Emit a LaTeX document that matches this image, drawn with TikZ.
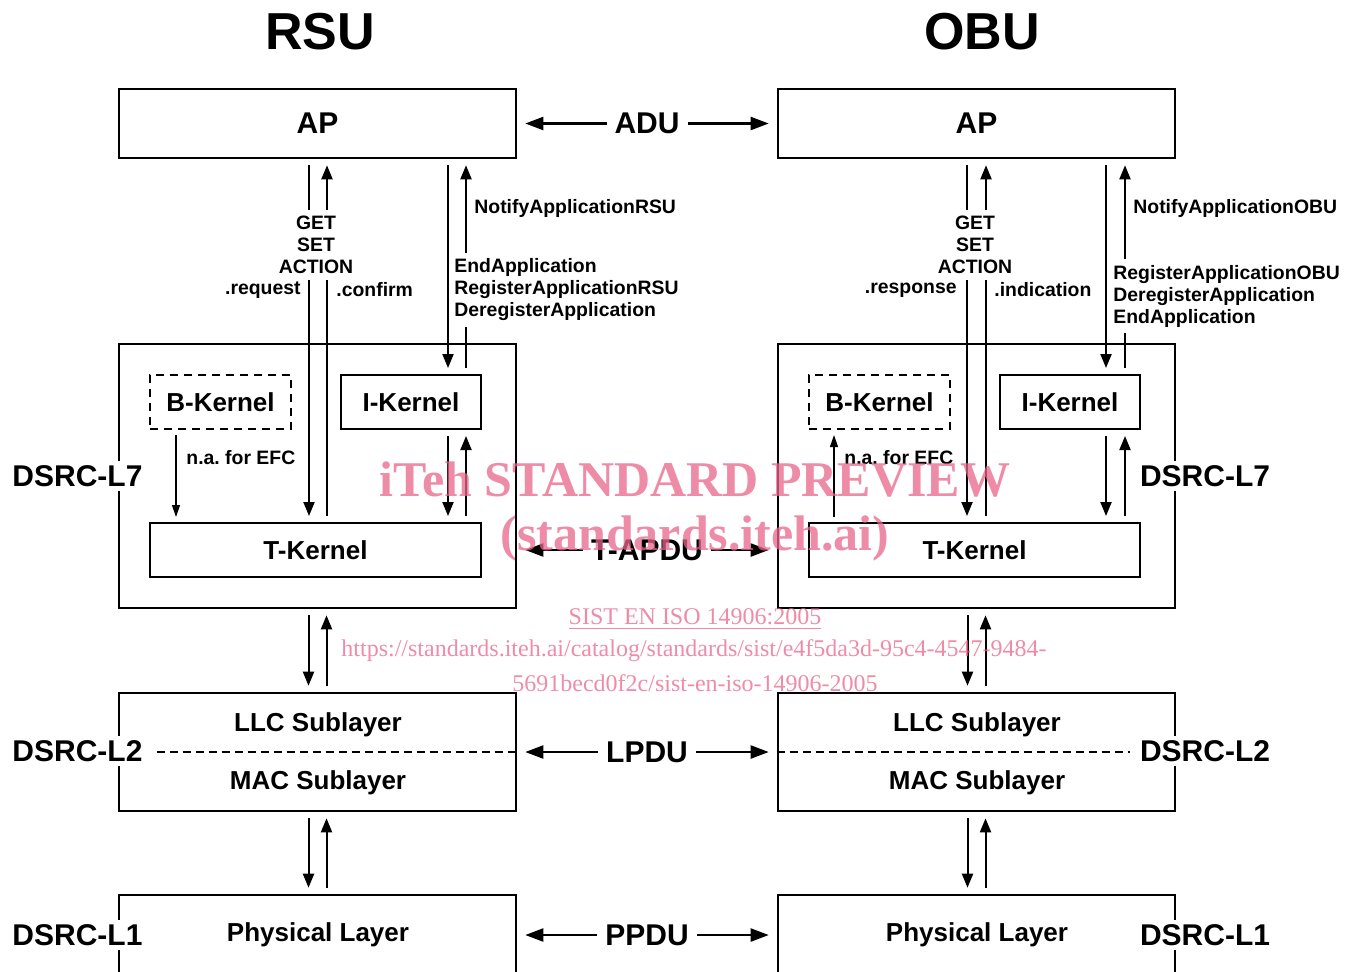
\documentclass[tikz,border=0pt]{standalone}
\usepackage{fontspec}
\setmainfont{Liberation Sans}
\newfontfamily\wmfont{Liberation Serif}
\usetikzlibrary{arrows.meta}
\definecolor{wmpink}{RGB}{232,102,139}
\frenchspacing

\begin{document}
\begin{tikzpicture}[x=0.5pt,y=-0.5pt,
  layer/.style={draw,line width=1.3pt,minimum width=198.5pt,inner sep=0pt,
    font=\fontsize{15}{18}\selectfont\bfseries},
  kernel/.style={draw,line width=1pt,minimum height=27pt,inner sep=0pt,
    font=\fontsize{13}{15}\selectfont\bfseries},
  sub/.style={font=\fontsize{13}{15}\selectfont\bfseries},
  side/.style={fill=white,inner xsep=5pt,inner ysep=2pt,font=\fontsize{15}{18}\selectfont\bfseries},
  small/.style={inner sep=1pt,font=\fontsize{9.7}{11}\selectfont\bfseries},
  pdu/.style={fill=white,inner xsep=4pt,inner ysep=1pt,font=\fontsize{15}{18}\selectfont\bfseries},
  flow/.style={line width=1pt,-{Triangle[length=7pt,width=5.5pt]},shorten >=3pt,shorten <=3pt},
  thinflow/.style={line width=0.6pt,-{Triangle[length=6pt,width=4pt]},shorten >=2.5pt,shorten <=2.5pt},
  peer/.style={line width=1.1pt,{Triangle[length=9pt,width=6.5pt]}-{Triangle[length=9pt,width=6.5pt]},
    shorten >=4pt,shorten <=4pt},
  wm/.style={text=wmpink,text opacity=0.75,inner sep=0pt}]
\useasboundingbox (0,0) rectangle (1352,971);
\clip (0,0) rectangle (1352,971);

\node[font=\fontsize{26}{30}\selectfont\bfseries] (rsu) at (320,32) {RSU};
\node[font=\fontsize{26}{30}\selectfont\bfseries] (obu) at (982,32) {OBU};

% RSU stack
\node[layer,minimum height=34.5pt] (apR) at (317.5,123.5) {AP};
\node[layer,minimum height=132pt] (l7R) at (317.5,476) {};
\node[kernel,dash pattern=on 4pt off 3pt,minimum width=70.5pt] (bkR) at (220.5,402) {B-Kernel};
\node[kernel,minimum width=70pt] (ikR) at (411,402) {I-Kernel};
\node[kernel,minimum width=165.5pt] (tkR) at (315.5,550) {T-Kernel};
\node[layer,minimum height=59pt] (l2R) at (317.5,752) {};
\node[sub] (llcR) at (318,725) {LLC Sublayer};
\node[sub] (macR) at (318,783) {MAC Sublayer};
\node[layer,minimum height=60pt] (l1R) at (317.5,955) {};
\node[sub] (phyR) at (318,935) {Physical Layer};

% OBU stack
\node[layer,minimum height=34.5pt] (apO) at (976.5,123.5) {AP};
\node[layer,minimum height=132pt] (l7O) at (976.5,476) {};
\node[kernel,dash pattern=on 4pt off 3pt,minimum width=70.5pt] (bkO) at (879.5,402) {B-Kernel};
\node[kernel,minimum width=70pt] (ikO) at (1070,402) {I-Kernel};
\node[kernel,minimum width=165.5pt] (tkO) at (974.5,550) {T-Kernel};
\node[layer,minimum height=59pt] (l2O) at (976.5,752) {};
\node[sub] (llcO) at (977,725) {LLC Sublayer};
\node[sub] (macO) at (977,783) {MAC Sublayer};
\node[layer,minimum height=60pt] (l1O) at (976.5,955) {};
\node[sub] (phyO) at (977,935) {Physical Layer};

\draw[line width=1pt,dash pattern=on 4pt off 2.5pt] (l2R.west) -- (l2R.east);
\draw[line width=1pt,dash pattern=on 4pt off 2.5pt] (l2O.west) -- (l2O.east);

\node[side] (dl7R) at (77.5,476) {DSRC-L7};
\node[side] (dl2R) at (77.5,751) {DSRC-L2};
\node[side] (dl1R) at (77.5,935) {DSRC-L1};
\node[side] (dl7O) at (1205,476) {DSRC-L7};
\node[side] (dl2O) at (1205,751) {DSRC-L2};
\node[side] (dl1O) at (1205,935) {DSRC-L1};

% peer to peer
\draw[peer] (apR) -- node[pdu] (adu) {ADU} (apO);
\draw[peer] (l7R.east |- tkR) -- node[pdu] (tapdu) {T-APDU} (l7O.west |- tkO);
\draw[peer] (l2R) -- node[pdu] (lpdu) {LPDU} (l2O);
\draw[peer] (l1R.east |- phyR) -- node[pdu] (ppdu) {PPDU} (l1O.west |- phyO);

% RSU primitives
\draw[flow] (309,0 |- apR.south) -- (309,0 |- tkR.north);
\draw[flow] (327,0 |- tkR.north) -- (327,0 |- apR.south);
\draw[flow] (448,0 |- apR.south) -- (448,0 |- ikR.north);
\draw[flow] (466,0 |- ikR.north) -- (466,0 |- apR.south);
\draw[flow] (448,0 |- ikR.south) -- (448,0 |- tkR.north);
\draw[flow] (466,0 |- tkR.north) -- (466,0 |- ikR.south);
\draw[thinflow] (176,0 |- bkR.south) -- (176,0 |- tkR.north);
\node[small,fill=white,align=center,inner sep=3pt] (gsaR) at (316,245) {GET\\SET\\ACTION};
\node[small,anchor=east] (reqR) at (303,290) {.request};
\node[small,anchor=west] (cnfR) at (334,290) {.confirm};
\node[small,anchor=west] (notR) at (472,208) {NotifyApplicationRSU};
\node[small,anchor=west,fill=white,align=left,inner ysep=3pt] (regR) at (452,290)
  {EndApplication\\RegisterApplicationRSU\\DeregisterApplication};
\node[small,anchor=west] (naR) at (184,458) {n.a. for EFC};

% OBU primitives
\draw[flow] (967,0 |- apO.south) -- (967,0 |- tkO.north);
\draw[flow] (986,0 |- tkO.north) -- (986,0 |- apO.south);
\draw[flow] (1106,0 |- apO.south) -- (1106,0 |- ikO.north);
\draw[flow] (1125,0 |- ikO.north) -- (1125,0 |- apO.south);
\draw[flow] (1106,0 |- ikO.south) -- (1106,0 |- tkO.north);
\draw[flow] (1125,0 |- tkO.north) -- (1125,0 |- ikO.south);
\draw[thinflow] (834,0 |- tkO.north) -- (834,0 |- bkO.south);
\node[small,fill=white,align=center,inner sep=3pt] (gsaO) at (975,245) {GET\\SET\\ACTION};
\node[small,anchor=east] (resO) at (959,290) {.response};
\node[small,anchor=west] (indO) at (992,290) {.indication};
\node[small,anchor=west] (notO) at (1131,208) {NotifyApplicationOBU};
\node[small,anchor=west,fill=white,align=left,inner ysep=3pt] (regO) at (1111,296)
  {RegisterApplicationOBU\\DeregisterApplication\\EndApplication};
\node[small,anchor=west] (naO) at (842,458) {n.a. for EFC};

% lower layers
\foreach \s in {R,O}{
  \draw[flow] ([xshift=-4.5pt]l7\s.south) -- ([xshift=-4.5pt]l2\s.north);
  \draw[flow] ([xshift=4.5pt]l2\s.north) -- ([xshift=4.5pt]l7\s.south);
  \draw[flow] ([xshift=-4.5pt]l2\s.south) -- ([xshift=-4.5pt]l1\s.north);
  \draw[flow] ([xshift=4.5pt]l1\s.north) -- ([xshift=4.5pt]l2\s.south);
}

% watermark
\node[wm,font=\wmfont\fontsize{25}{30}\selectfont\bfseries] (wm1) at (695,480) {iTeh STANDARD PREVIEW};
\node[wm,font=\wmfont\fontsize{25}{30}\selectfont\bfseries] (wm2) at (695,538) {(standards.iteh.ai)};
\node[wm,font=\wmfont\fontsize{12}{14}\selectfont] (wm3) at (695,619) {\underline{SIST EN ISO 14906:2005}};
\node[wm,font=\wmfont\fontsize{12}{14}\selectfont] (wm4) at (694,651) {https://standards.iteh.ai/catalog/standards/sist/e4f5da3d-95c4-4547-9484-};
\node[wm,font=\wmfont\fontsize{12}{14}\selectfont] (wm5) at (695,683) {5691becd0f2c/sist-en-iso-14906-2005};
\end{tikzpicture}
\end{document}
